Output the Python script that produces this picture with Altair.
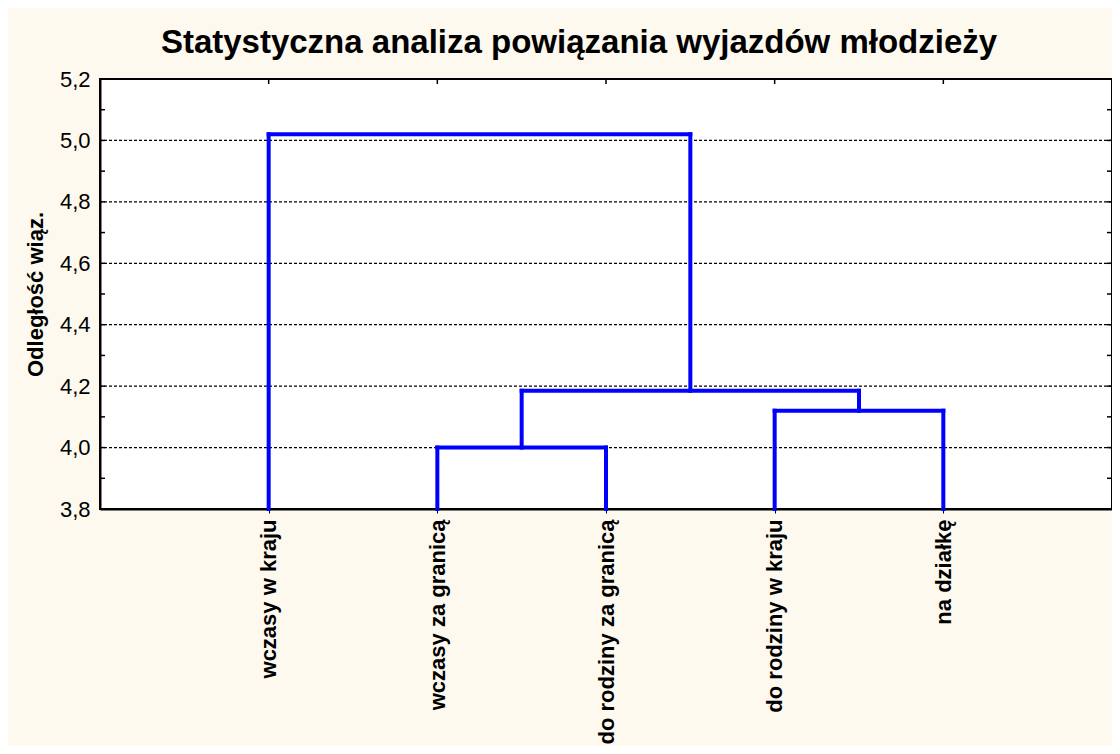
import altair as alt
import pandas as pd

# ---- data ----
leaves = ["wczasy w kraju", "wczasy za granicą", "do rodziny za granicą",
          "do rodziny w kraju", "na działkę"]
# linkage: (left node, right node, height); nodes 0..4 are leaves, new nodes numbered from 5
merge_left = [1, 3, 5, 0]
merge_right = [2, 4, 6, 7]
merge_height = [4.0, 4.12, 4.185, 5.02]

y_ticks = [3.8, 4.0, 4.2, 4.4, 4.6, 4.8, 5.0, 5.2]
y_minor = [3.9, 4.1, 4.3, 4.5, 4.7, 4.9, 5.1]
grid_vals = [4.0, 4.2, 4.4, 4.6, 4.8, 5.0]

# ---- build dendrogram segments from linkage ----
base_y = 3.8
pos = {i: i + 1 for i in range(len(leaves))}
hgt = {i: base_y for i in range(len(leaves))}
segs = []
for k, (a, b, h) in enumerate(zip(merge_left, merge_right, merge_height)):
    xa, xb = pos[a], pos[b]
    segs.append(dict(x=xa, x2=xa, y=hgt[a], y2=h))
    segs.append(dict(x=xb, x2=xb, y=hgt[b], y2=h))
    segs.append(dict(x=xa, x2=xb, y=h, y2=h))
    node = len(leaves) + k
    pos[node] = (xa + xb) / 2
    hgt[node] = h
seg_df = pd.DataFrame(segs)

W, H = 1012, 430
FONT = "Liberation Sans"

label_expr = "[" + ",".join("'" + s + "'" for s in leaves) + "][round(datum.value) - 1]"

xscale = alt.Scale(domain=[0, 6], nice=False, zero=False)
yscale = alt.Scale(domain=[3.8, 5.2], nice=False, zero=False)

grid = alt.Chart(pd.DataFrame({"v": grid_vals})).mark_rule(
    color="black", strokeWidth=1.2, strokeDash=[3, 2]
).encode(y=alt.Y("v:Q", scale=yscale))

minor_df = pd.DataFrame({"v": y_minor + y_ticks})
tick_l = alt.Chart(minor_df).mark_rule(color="black", strokeWidth=1.5).encode(
    y=alt.Y("v:Q", scale=yscale), x=alt.value(0), x2=alt.value(5))
tick_r = alt.Chart(minor_df).mark_rule(color="black", strokeWidth=1.5).encode(
    y=alt.Y("v:Q", scale=yscale), x=alt.value(W - 5), x2=alt.value(W))
leaf_df = pd.DataFrame({"p": list(range(1, len(leaves) + 1))})
tick_t = alt.Chart(leaf_df).mark_rule(color="black", strokeWidth=1.5).encode(
    x=alt.X("p:Q", scale=xscale), y=alt.value(0), y2=alt.value(5))

dendro = alt.Chart(seg_df).mark_rule(
    color="#0000FF", strokeWidth=4, strokeCap="square"
).encode(
    x=alt.X("x:Q", scale=xscale,
            axis=alt.Axis(values=list(range(1, len(leaves) + 1)), labelExpr=label_expr,
                          labelAngle=270, labelAlign="right", labelBaseline="middle",
                          labelFont=FONT, labelFontSize=22, labelFontWeight="bold",
                          labelColor="black", labelPadding=6, tickSize=4, labelLimit=0,
                          tickColor="black", domainColor="black", domainWidth=2,
                          grid=False, title=None, labelOverlap=False, labelBound=False)),
    x2="x2:Q",
    y=alt.Y("y:Q", scale=yscale,
            axis=alt.Axis(values=y_ticks,
                          labelExpr="replace(format(datum.value, '.1f'), '.', ',')",
                          labelFont=FONT, labelFontSize=22, labelColor="black",
                          labelPadding=10, ticks=False, domainColor="black", domainWidth=2,
                          grid=False, title="Odległość wiąz.", titleFont=FONT,
                          titleFontSize=22, titleFontWeight="bold", titleColor="black",
                          titlePadding=12, labelOverlap=False)),
    y2="y2:Q",
)

chart = alt.layer(grid, tick_l, tick_r, tick_t, dendro).properties(
    width=W, height=H,
    background="#FDF9EF",
    autosize=alt.AutoSizeParams(type="none"),
    padding={"left": 92, "top": 71, "right": 0, "bottom": 237},
    title=alt.TitleParams("Statystyczna analiza powiązania wyjazdów młodzieży",
                          font=FONT, fontSize=33, fontWeight="bold", color="black",
                          anchor="middle", dx=-27, offset=8),
).configure_view(stroke="black", strokeWidth=2, fill="white")

chart.save("out.html", embed_options={"renderer": "svg", "actions": False})
